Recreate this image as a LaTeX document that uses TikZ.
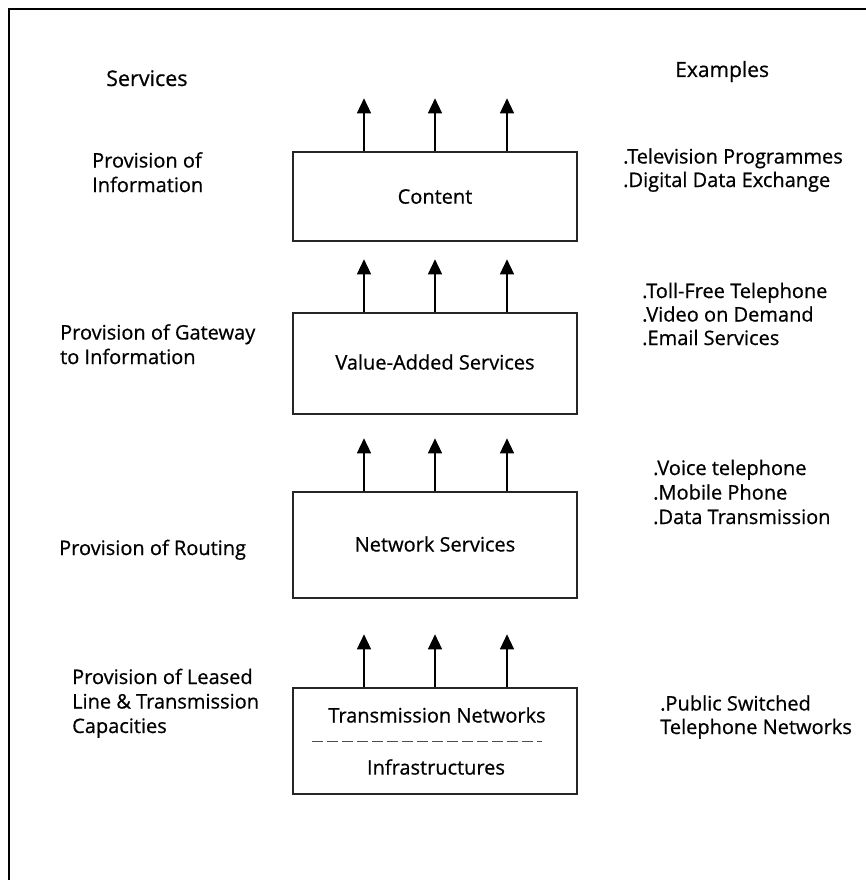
\documentclass[tikz,border=0pt]{standalone}
\usepackage{fontspec}
\setmainfont{Open Sans}[FakeBold=0.6]
\usetikzlibrary{arrows.meta,calc}
\begin{document}
\begin{tikzpicture}[x=1pt,y=-1pt,
  lbl/.style={inner sep=0pt,anchor=base west,align=left,font=\fontsize{20}{24.5}\selectfont},
  boxtxt/.style={inner sep=0pt,font=\fontsize{20}{24}\selectfont},
  layer/.style={draw=black!85,line width=1.4pt,minimum width=284pt,inner sep=0pt},
  uparr/.style={line width=1.4pt,-{Triangle[width=14pt,length=15pt]}}]
\useasboundingbox (0,0) rectangle (866,880);
\fill[white] (0,0) rectangle (866,880);
% frame
\draw[line width=2.8pt] (9,880) -- (9,9) -- (866,9);
% headers
\node[lbl,font=\fontsize{21.5}{24}\selectfont] (hserv) at (106,86) {Services};
\node[lbl,font=\fontsize{21}{24}\selectfont] (hex) at (675,77) {Examples};
% boxes
\node[layer,minimum height=89pt] (cont) at (435,196.5) {};
\node[boxtxt] (conttxt) at (435,196.5) {Content};
\node[layer,minimum height=101pt] (vas) at (435,363.5) {};
\node[boxtxt] (vastxt) at (435,362) {Value-Added Services};
\node[layer,minimum height=106pt] (ns) at (435,545) {};
\node[boxtxt] (nstxt) at (435,544) {Network Services};
\node[layer,minimum height=106pt] (tn) at (435,741) {};
\node[boxtxt] (tntxt) at (437,715) {Transmission Networks};
\node[boxtxt] (inftxt) at (436,767) {Infrastructures};
\coordinate (dl) at (312,741);
\coordinate (dr) at (542,741);
\draw[black!70,line width=1pt,dash pattern=on 11pt off 4pt] (dl) -- (dr);
% arrows
\foreach \b in {cont,vas,ns,tn}{
  \foreach \x in {364,435,507}{
    \draw[uparr] (\b.north -| {(\x,0)}) -- ++(0,-53);
  }
}
% left labels
\node[lbl] (l1) at (92,192) {Provision of\\Information};
\node[lbl] (l2) at (60,364) {Provision of Gateway\\to Information};
\node[lbl] (l3) at (59,555) {Provision of Routing};
\node[lbl] (l4) at (72,733) {Provision of Leased\\Line \& Transmission\\Capacities};
% right labels
\node[lbl,font=\fontsize{20}{23.5}\selectfont] (r1) at (623,187) {.Television Programmes\\.Digital Data Exchange};
\node[lbl,font=\fontsize{20}{23.5}\selectfont] (r2) at (642,345) {.Toll-Free Telephone\\.Video on Demand\\.Email Services};
\node[lbl] (r3) at (653,524) {.Voice telephone\\.Mobile Phone\\.Data Transmission};
\node[lbl,font=\fontsize{20}{23.5}\selectfont] (r4) at (660,734) {.Public Switched\\Telephone Networks};
\end{tikzpicture}
\end{document}
